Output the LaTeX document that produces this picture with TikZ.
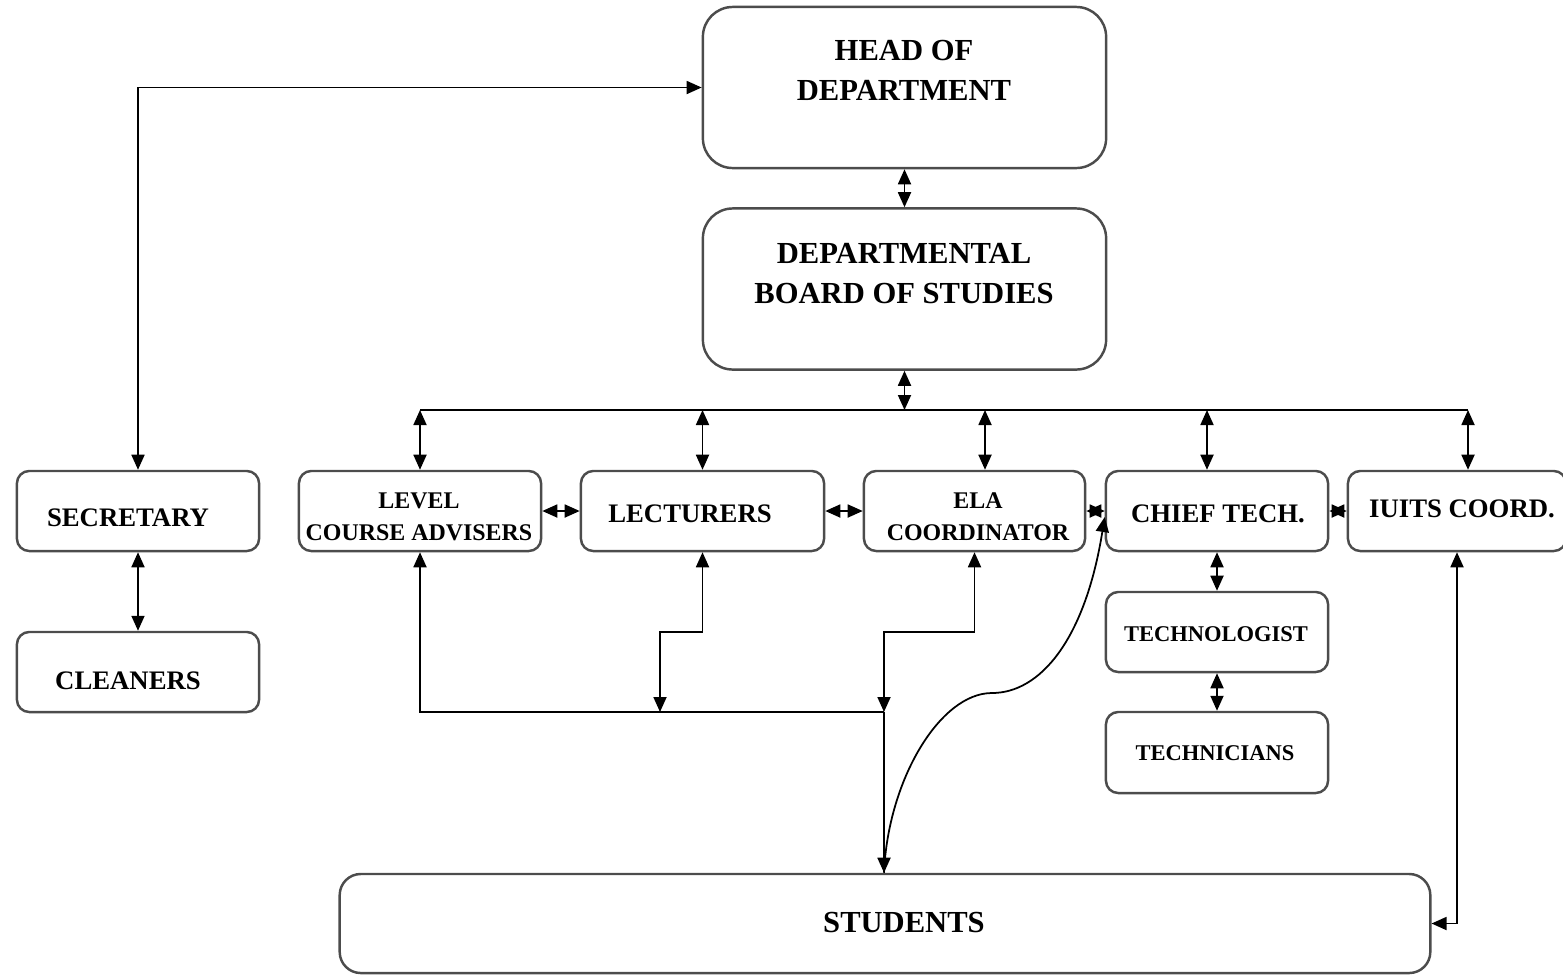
\documentclass[tikz,border=0pt]{standalone}
\usepackage{fontspec}
\setmainfont{Liberation Serif}
\usetikzlibrary{arrows.meta}

\begin{document}
\begin{tikzpicture}[x=0.01cm,y=-0.01cm,
	>={Triangle[length=1.5mm,width=1.3mm]},
	line width=0.5pt,
	box/.style={draw=black!70,line width=0.7pt,rounded corners=3.5pt,inner sep=0pt,minimum height=0.8cm},
	bigbox/.style={box,rounded corners=8.5pt,minimum width=4.03cm,minimum height=1.61cm},
	bigtxt/.style={font=\fontsize{8.7}{11.3}\selectfont\bfseries,align=center},
	rowtxt/.style={font=\fontsize{7.6}{9}\selectfont\bfseries},
	smalltxt/.style={font=\fontsize{6.8}{9.1}\selectfont\bfseries,align=center},
	techtxt/.style={font=\fontsize{6.4}{8}\selectfont\bfseries}]
\useasboundingbox (0,0) rectangle (1563,975);

\node[bigbox] (hod) at (904.5,87.5) {};
\node[bigbox] (dbs) at (904.5,289) {};
\node[box,minimum width=2.42cm] (sec) at (138,511) {};
\node[box,minimum width=2.42cm] (lca) at (420,511) {};
\node[box,minimum width=2.43cm] (lect) at (702.5,511) {};
\node[box,minimum width=2.21cm] (ela) at (974.5,511) {};
\node[box,minimum width=2.22cm] (chief) at (1217,511) {};
\node[box,minimum width=2.18cm] (iuits) at (1457,511) {};
\node[box,minimum width=2.42cm] (clean) at (138,672) {};
\node[box,minimum width=2.22cm] (techno) at (1217,632) {};
\node[box,minimum width=2.22cm,minimum height=0.81cm] (techn) at (1217,752.5) {};
\node[box,rounded corners=6pt,minimum width=10.9cm,minimum height=0.99cm] (stud) at (885,923.5) {};

\node[bigtxt] (hodlbl) at (904,70.5) {HEAD OF\\DEPARTMENT};
\node[bigtxt] (dbslbl) at (904,273.5) {DEPARTMENTAL\\BOARD OF STUDIES};
\node[rowtxt] (seclbl) at (128,518) {SECRETARY};
\node[smalltxt] (lcalbl) at (419,517) {LEVEL\\COURSE ADVISERS};
\node[rowtxt] (lectlbl) at (690,514) {LECTURERS};
\node[smalltxt] (elalbl) at (978,517) {ELA\\COORDINATOR};
\node[rowtxt] (chieflbl) at (1218,514) {CHIEF TECH.};
\node[rowtxt] (iuitslbl) at (1462,509) {IUITS COORD.};
\node[rowtxt] (cleanlbl) at (128,681) {CLEANERS};
\node[techtxt] (technolbl) at (1216,634) {TECHNOLOGIST};
\node[techtxt] (technlbl) at (1215,753) {TECHNICIANS};
\node[bigtxt] (studlbl) at (904,923) {STUDENTS};

\coordinate (bus) at (904.5,410);
\coordinate (join) at (884,712);

\draw[<->] (hod) -- (dbs);
\draw[<->] (dbs) -- (bus);
\draw (lca.north |- bus) -- ([xshift=0.11cm]iuits.north |- bus);
\foreach \n/\d in {lca/0cm,lect/0cm,ela/0.105cm,chief/-0.1cm,iuits/0.11cm}
	\draw[<->] ([xshift=\d]\n.north |- bus) -- ([xshift=\d]\n.north);

\draw[<->] (lca) -- (lect);
\draw[<->] (lect) -- (ela);
\draw[<->] (ela) -- (chief);
\draw[<->] (chief) -- (iuits);

\draw[<->] (sec.north) |- (hod.west);
\draw[<->] (sec) -- (clean);
\draw[<->] (chief) -- (techno);
\draw[<->] (techno) -- (techn);

\draw[->] (join) -| (lca.south);
\draw[<->] (lect.south) |- ++(-42.5,80) -- (join -| 660,0);
\draw[<->] (ela.south) |- ++(-90.5,80) -- (join);
\draw[->] (join) -- (join |- stud.north);
\draw[->] (join |- stud.north) .. controls (888,780) and (940,693) .. (992,693)
	.. controls (1040,693) and (1085,640) .. ([yshift=-0.06cm]chief.west);
\draw[<->] (iuits.south) |- (stud.east);
\end{tikzpicture}
\end{document}
